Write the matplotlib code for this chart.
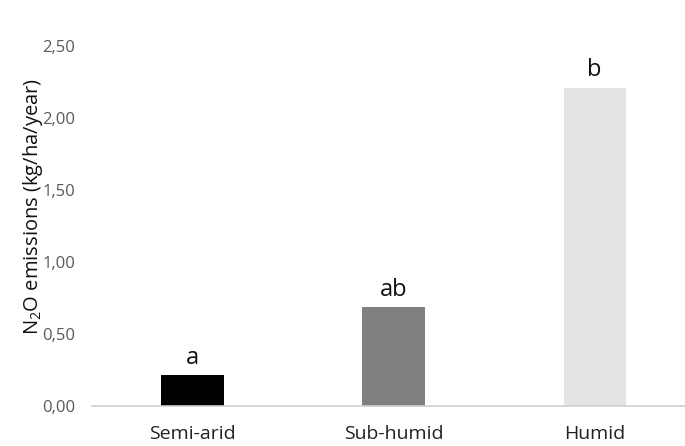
import matplotlib
matplotlib.use('Agg')
import matplotlib.pyplot as plt
from matplotlib.ticker import FuncFormatter

plt.rcParams['font.family'] = ['Open Sans', 'DejaVu Sans']
plt.rcParams['mathtext.fontset'] = 'custom'
plt.rcParams['mathtext.rm'] = 'Open Sans'
plt.rcParams['mathtext.it'] = 'Open Sans'

climates = ['Semi-arid', 'Sub-humid', 'Humid']
n2o = [0.21, 0.685, 2.21]
groups = ['a', 'ab', 'b']
bar_colors = ['#000000', '#808080', '#e4e4e4']

fig = plt.figure(figsize=(6.85, 4.46), dpi=100)
ax = fig.add_axes([0.134, 0.0904, 0.881, 0.8066])

x = range(len(climates))
bars = ax.bar(x, n2o, width=0.31, color=bar_colors)

# significance letters above each bar
for xi, val, g in zip(x, n2o, groups):
    ax.annotate(g, (xi, val), xytext=(0, 4), textcoords='offset points',
                ha='center', va='bottom', fontsize=17, color='#111111')

ax.set_xlim(-0.5, 2.5)
ax.set_ylim(0, 2.5)
ax.set_yticks([0, 0.5, 1.0, 1.5, 2.0, 2.5])
ax.yaxis.set_major_formatter(FuncFormatter(lambda v, p: f'{v:.2f}'.replace('.', ',')))
ax.set_xticks(list(x))
ax.set_xticklabels(climates)

ax.tick_params(axis='y', length=0, pad=12, labelsize=12, labelcolor='#595959')
ax.tick_params(axis='x', length=0, pad=14, labelsize=14, labelcolor='#222222')

for s in ['top', 'right', 'left']:
    ax.spines[s].set_visible(False)
ax.spines['bottom'].set_color('#d0d0d0')
ax.spines['bottom'].set_linewidth(1.2)

ax.set_ylabel(r'N$_2$O emissions (kg/ha/year)', fontsize=14.5, color='#111111')
ax.yaxis.set_label_coords(-0.078, 0.555)

fig.savefig('out.png', dpi=100)
